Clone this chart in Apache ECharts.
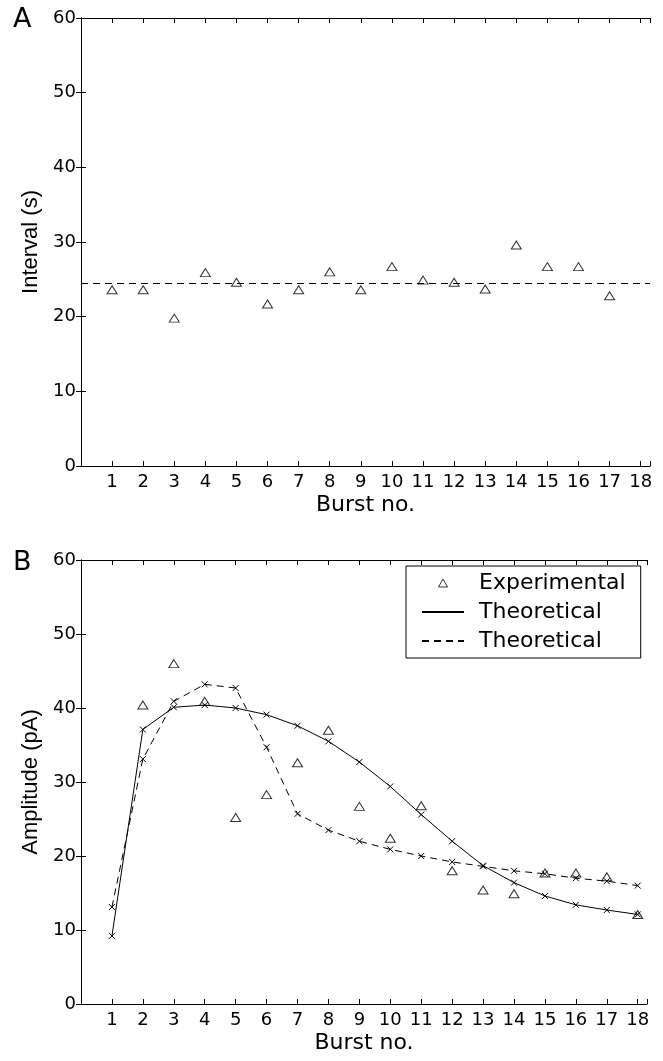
<!DOCTYPE html>
<html>
<head>
<meta charset="utf-8">
<script src="https://cdn.jsdelivr.net/npm/echarts@6/dist/echarts.min.js"></script>
<style>
  html, body { margin: 0; padding: 0; background: #fff; }
  #chart { width: 663px; height: 1061px; }
</style>
</head>
<body>
<div id="chart"></div>
<script>
  // burst numbers shown on both x axes
  var burstNo = [1, 2, 3, 4, 5, 6, 7, 8, 9, 10, 11, 12, 13, 14, 15, 16, 17, 18];
  var yTicks = [0, 10, 20, 30, 40, 50, 60];

  // panel A - interval between bursts
  var intervalBurst = [1, 2, 3, 4, 5, 6, 7, 8, 9, 10, 11, 12, 13, 14, 15, 16, 17];
  var intervalValue = [23.6, 23.6, 19.8, 25.9, 24.6, 21.7, 23.6, 26.0, 23.6, 26.7, 24.9, 24.6, 23.7, 29.6, 26.7, 26.7, 22.8];
  var meanInterval = 24.5;

  // panel B - amplitude
  var ampExperimental = [null, 40.4, 46.0, 40.9, 25.2, 28.3, 32.6, 37.0, 26.7, 22.4, 26.8, 18.0, 15.4, 14.9, 17.7, 17.7, 17.2, 12.1];
  var ampTheorySolid = [9.2, 37.1, 40.1, 40.4, 40.0, 39.1, 37.6, 35.5, 32.7, 29.4, 25.6, 22.0, 18.7, 16.4, 14.6, 13.4, 12.7, 12.1];
  var ampTheoryDashed = [13.1, 33.1, 40.9, 43.2, 42.7, 34.7, 25.7, 23.5, 22.0, 20.9, 20.0, 19.2, 18.6, 18.0, 17.6, 17.0, 16.6, 16.0];

  var crossSymbol = 'path://M0,0L10,10M10,0L0,10';
  // small triangle inside a 42x8 box so the legend does not stretch it
  var legendTriangle = 'path://M0,4L0,4.01ZM42,4L42,4.01ZM16.5,8L21,0L25.5,8Z';
  var textFont = 'DejaVu Sans';

  function pairs(xs, ys) {
    var out = [];
    for (var i = 0; i < xs.length; i++) {
      if (ys[i] != null) out.push([xs[i], ys[i]]);
    }
    return out;
  }

  function xAxisFor(grid, pos, name) {
    return {
      type: 'value', gridIndex: grid, position: pos,
      min: 0, max: 18.3, interval: 1,
      name: name, nameLocation: 'middle', nameGap: 28,
      nameTextStyle: { fontFamily: textFont, fontSize: 22, color: '#000' },
      axisLine: { show: true, onZero: false, lineStyle: { color: '#000', width: 1 } },
      axisTick: { show: true, inside: true, length: 5, lineStyle: { color: '#000' } },
      axisLabel: {
        show: pos === 'bottom', margin: 7,
        fontFamily: textFont, fontSize: 18, color: '#000',
        formatter: function (v) { return burstNo.indexOf(v) >= 0 ? String(v) : ''; }
      },
      splitLine: { show: false }
    };
  }

  function yAxisFor(grid, pos, name) {
    return {
      type: 'value', gridIndex: grid, position: pos,
      min: yTicks[0], max: yTicks[yTicks.length - 1], interval: 10,
      name: name, nameLocation: 'middle', nameGap: 37,
      nameTextStyle: { fontFamily: 'Liberation Sans', fontSize: 22, color: '#000' },
      axisLine: { show: true, lineStyle: { color: '#000', width: 1 } },
      axisTick: { show: true, inside: true, length: 5, lineStyle: { color: '#000' } },
      axisLabel: {
        show: pos === 'left', margin: 5,
        fontFamily: textFont, fontSize: 18, color: '#000'
      },
      splitLine: { show: false }
    };
  }

  var chart = echarts.init(document.getElementById('chart'));
  chart.setOption({
    animation: false,
    backgroundColor: '#fff',
    title: [
      { text: 'A', left: 13, top: 6, padding: 0, textStyle: { fontFamily: textFont, fontSize: 27, fontWeight: 'normal', color: '#000' } },
      { text: 'B', left: 13, top: 549, padding: 0, textStyle: { fontFamily: textFont, fontSize: 27, fontWeight: 'normal', color: '#000' } }
    ],
    grid: [
      { left: 81, top: 18, width: 569, height: 448 },
      { left: 81, top: 560, width: 566, height: 444 }
    ],
    xAxis: [
      xAxisFor(0, 'bottom', 'Burst no.'),
      xAxisFor(0, 'top', ''),
      xAxisFor(1, 'bottom', 'Burst no.'),
      xAxisFor(1, 'top', '')
    ],
    yAxis: [
      yAxisFor(0, 'left', 'Interval (s)'),
      yAxisFor(0, 'right', ''),
      yAxisFor(1, 'left', 'Amplitude (pA)'),
      yAxisFor(1, 'right', '')
    ],
    legend: {
      orient: 'vertical',
      left: 406, top: 566,
      padding: [6, 15, 6, 15],
      itemWidth: 42, itemHeight: 8, itemGap: 7,
      backgroundColor: '#fff',
      borderColor: '#000', borderWidth: 1, borderRadius: 0,
      textStyle: { fontFamily: textFont, fontSize: 22, color: '#000', lineHeight: 22, padding: [0, 0, 0, 10] },
      formatter: function (name) { return name.split(' (')[0]; },
      data: [
        { name: 'Experimental', icon: legendTriangle,
          itemStyle: { color: 'transparent', borderColor: '#000', borderWidth: 1 } },
        { name: 'Theoretical (solid)', itemStyle: { opacity: 0 } },
        { name: 'Theoretical (dashed)', itemStyle: { opacity: 0 } }
      ]
    },
    series: [
      {
        name: 'Interval', type: 'scatter', xAxisIndex: 0, yAxisIndex: 0,
        data: pairs(intervalBurst, intervalValue),
        symbol: 'triangle', symbolSize: [10, 8],
        itemStyle: { color: 'transparent', borderColor: '#000', borderWidth: 1 },
        markLine: {
          silent: true, symbol: 'none', label: { show: false },
          lineStyle: { color: '#000', width: 1, type: [7, 5] },
          data: [{ yAxis: meanInterval }]
        }
      },
      {
        name: 'Theoretical (solid)', type: 'line', xAxisIndex: 2, yAxisIndex: 2,
        data: pairs(burstNo, ampTheorySolid),
        symbol: crossSymbol, symbolSize: 6, showAllSymbol: true,
        lineStyle: { color: '#000', width: 1 },
        itemStyle: { color: '#000', borderColor: '#000', borderWidth: 1 }
      },
      {
        name: 'Theoretical (dashed)', type: 'line', xAxisIndex: 2, yAxisIndex: 2,
        data: pairs(burstNo, ampTheoryDashed),
        symbol: crossSymbol, symbolSize: 6, showAllSymbol: true,
        lineStyle: { color: '#000', width: 1, type: [7, 5] },
        itemStyle: { color: '#000', borderColor: '#000', borderWidth: 1 }
      },
      {
        name: 'Experimental', type: 'scatter', xAxisIndex: 2, yAxisIndex: 2,
        data: pairs(burstNo, ampExperimental),
        symbol: 'triangle', symbolSize: [10, 8], z: 5,
        itemStyle: { color: 'transparent', borderColor: '#000', borderWidth: 1 }
      }
    ]
  });
</script>
</body>
</html>
